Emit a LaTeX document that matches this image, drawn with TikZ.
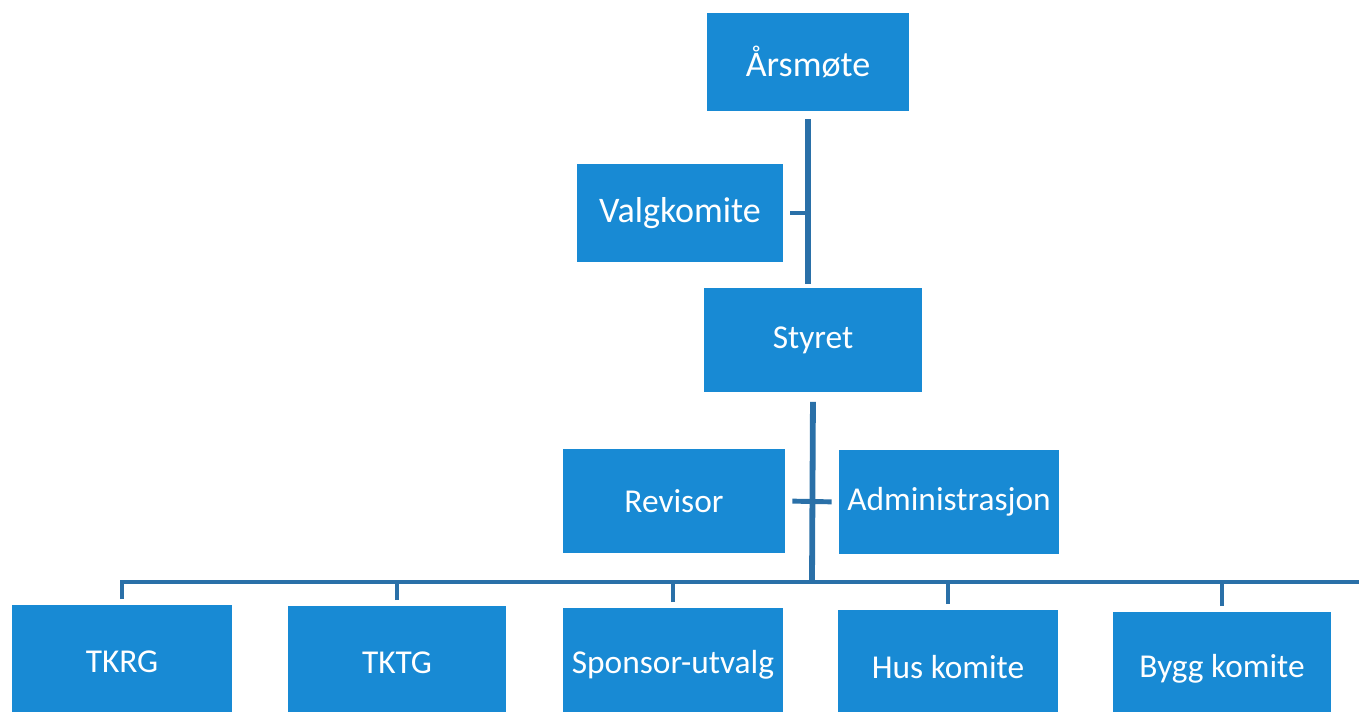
\documentclass[tikz,border=0pt]{standalone}
\usepackage{fontspec}
\setmainfont{Carlito}
\usepackage{tikz}
\usetikzlibrary{
    calc,
    positioning,
    arrows.meta
}

\begin{document}
\begin{tikzpicture}[
    x=0.02cm, y=-0.02cm,
    font=\fontsize{19}{22}\selectfont,
    box/.style={
    	fill=my-blue, text=white,
    	minimum width=4.4cm,
    	minimum height=2.1cm,
    	inner sep=2pt, align=center, anchor=center
    }, low/.style={
    	minimum height=2.3cm
    }, big/.style={
    	font=\fontsize{20.5}{24}\selectfont
    }, lin/.style={
    	draw=my-line,
    	line width=3.3pt
    }]
    \definecolor{my-blue}{RGB}{24, 138, 212}
    \definecolor{my-line}{RGB}{42, 112, 168}

    \useasboundingbox (0,0) rectangle (1359,712);

    %%% top
    \node[box, big, minimum width=4.04cm, minimum height=1.96cm] (arsmote) at (808,62) {Årsmøte};
    \node[box, big, minimum width=4.12cm, minimum height=1.96cm] (valg) at (680,213) {Valgkomite};
    \node[box, minimum width=4.38cm] (styret) at (813,340) {Styret};

    \node[box, minimum width=4.44cm] (revisor) at (674,501) {Revisor};
    \node[box] (admin) at (949,502) {Administrasjon};

    %%% bottom row
    \node[box, low] (tkrg) at (122,662) {TKRG};
    \node[box, low, minimum width=4.38cm] (tktg) at (397,663) {TKTG};
    \node[box, low] (sponsor) at (673,665) {Sponsor-utvalg};
    \node[box, low] (hus) at (948,667) {Hus komite};
    \node[box, low, minimum width=4.38cm] (bygg) at (1222,669) {Bygg komite};

    \coordinate (bus) at (812,582);
    \coordinate (busend) at (1380,582);

    %%% EDGES
    \draw[lin, shorten <=0.16cm, shorten >=0.06cm] (arsmote.south) -- (arsmote |- styret.north);
    \draw[lin, line width=2.8pt, shorten <=0.14cm] (valg.east) -- (valg.east -| arsmote);

    \draw[lin, shorten <=0.18cm] (styret.south) -- (bus);
    \draw[lin, line width=2.8pt, shorten <=0.14cm, shorten >=0.14cm] (revisor.east) -- (admin.west);

    \draw[lin, line width=2.8pt, shorten <=0.1cm] (tkrg.north) |- (busend);
    \foreach \n in {tktg, sponsor, hus, bygg}
        \draw[lin, line width=2.8pt, shorten <=0.1cm] (\n.north) -- (\n.north |- bus);

\end{tikzpicture}
\end{document}
